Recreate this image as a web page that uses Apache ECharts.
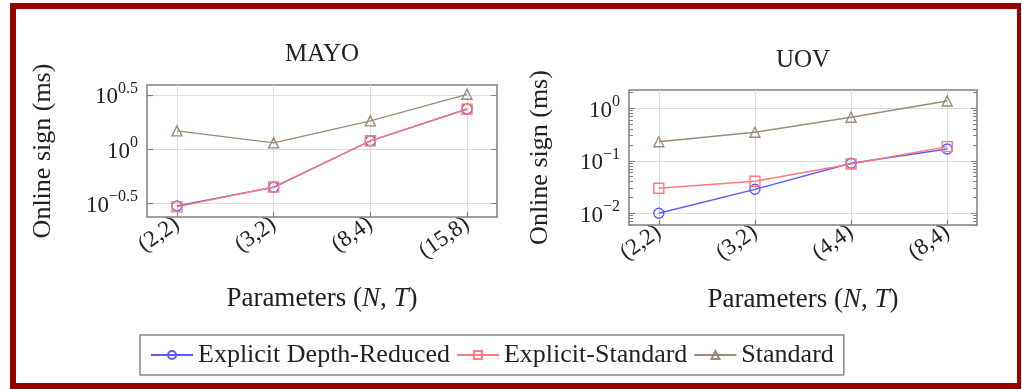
<!DOCTYPE html>
<html><head><meta charset="utf-8">
<script src="https://cdn.jsdelivr.net/npm/echarts@6/dist/echarts.min.js"></script>
<style>
html,body{margin:0;padding:0;background:#fff;}
#frame{position:absolute;left:10px;top:3px;width:1011px;height:386px;box-sizing:border-box;border:6px solid #990000;border-right-width:4px;}
#chart{position:absolute;left:0;top:0;width:1022px;height:389px;}
</style></head><body>
<div id="frame"></div><div id="chart"></div>
<script>
const seriesNames = ['Explicit Depth-Reduced', 'Explicit-Standard', 'Standard'];
const mayoCategories = ['(2,2)', '(3,2)', '(8,4)', '(15,8)'];
const uovCategories = ['(2,2)', '(3,2)', '(4,4)', '(8,4)'];
const mayoDepthReduced = [0.298, 0.443, 1.19, 2.34];
const mayoExplicitStd = [0.292, 0.446, 1.19, 2.33];
const mayoStandard = [1.47, 1.14, 1.82, 3.2];
const uovDepthReduced = [0.0100, 0.0286, 0.0896, 0.168];
const uovExplicitStd = [0.0299, 0.0407, 0.0869, 0.186];
const uovStandard = [0.231, 0.349, 0.674, 1.38];
const mayoYTickExponents = [-0.5, 0, 0.5];
const uovYTickExponents = [-2, -1, 0];
const uovMinorTicks = [0.006, 0.007, 0.008, 0.009, 0.02, 0.03, 0.04, 0.05, 0.06, 0.07, 0.08, 0.09,
  0.2, 0.3, 0.4, 0.5, 0.6, 0.7, 0.8, 0.9, 2];

const FONT = 'Liberation Serif';
const TXT = '#222222';
const FRAME = '#808080';
const GRIDC = '#dcdcdc';
const COLORS = ['#5a5aff', '#ff7a7a', '#9c8b76'];
const SYMBOLS = ['circle', 'rect', 'triangle'];

const catIdx = [0, 1, 2, 3];
function expLabel(v) {
  const e = Math.round(Math.log10(v) * 10) / 10;
  const s = (e < 0 ? '\u2212' : '') + String(Math.abs(e));
  return '{b|10}{s|' + s + '}';
}
const yRich = {
  b: {fontFamily: FONT, fontSize: 23, color: TXT, lineHeight: 28, verticalAlign: 'bottom'},
  s: {fontFamily: FONT, fontSize: 16, color: TXT, lineHeight: 16, verticalAlign: 'top'}
};
function xAxis(gi, cats, nameGap) {
  return {
    type: 'value', gridIndex: gi, min: -0.31, max: 3.31,
    axisLine: {show: false, onZero: false},
    axisTick: {show: true, customValues: catIdx, inside: true, length: 5, lineStyle: {color: FRAME, width: 1.2}},
    axisLabel: {customValues: catIdx, formatter: v => cats[Math.round(v)], rotate: 35, fontFamily: FONT, fontSize: 23, color: TXT, margin: 5},
    splitLine: {show: true, lineStyle: {color: GRIDC, width: 1}},
    name: '{r|Parameters (}{i|N}{r|, }{i|T}{r|)}', nameLocation: 'middle', nameGap: nameGap,
    nameTextStyle: {rich: {
      r: {fontFamily: FONT, fontSize: 27, color: TXT},
      i: {fontFamily: FONT, fontSize: 27, color: TXT, fontStyle: 'italic'}
    }}
  };
}
function yMain(gi, min, max, ticks, nameGap) {
  return {
    type: 'log', logBase: 10, gridIndex: gi, min: min, max: max, position: 'left',
    axisLine: {show: false, onZero: false},
    axisTick: {show: true, customValues: ticks, inside: true, length: 6, lineStyle: {color: FRAME, width: 1.2}},
    axisLabel: {customValues: ticks, formatter: expLabel, rich: yRich, margin: 9},
    splitLine: {show: true, lineStyle: {color: GRIDC, width: 1}},
    name: 'Online sign (ms)', nameLocation: 'middle', nameGap: nameGap,
    nameTextStyle: {fontFamily: FONT, fontSize: 26, color: TXT}
  };
}
function yTicksOnly(gi, min, max, ticks, pos, len) {
  return {
    type: 'log', logBase: 10, gridIndex: gi, min: min, max: max, position: pos,
    axisLine: {show: false, onZero: false},
    axisTick: {show: true, customValues: ticks, inside: true, length: len, lineStyle: {color: FRAME, width: 1}},
    axisLabel: {show: false},
    splitLine: {show: false}
  };
}
function mkSeries(k, data, xi, yi) {
  return {
    type: 'line', name: seriesNames[k], xAxisIndex: xi, yAxisIndex: yi,
    data: data.map((v, i) => [catIdx[i], v]),
    symbol: SYMBOLS[k], symbolSize: 10,
    lineStyle: {color: COLORS[k], width: 1.4},
    itemStyle: {color: 'rgba(255,255,255,0)', borderColor: COLORS[k], borderWidth: 1.4},
    emphasis: {disabled: true}, animation: false
  };
}
const mayoTicks = mayoYTickExponents.map(e => Math.pow(10, e));
const uovTicks = uovYTickExponents.map(e => Math.pow(10, e));
const mMin = 0.2355, mMax = 3.90, uMin = 0.00598, uMax = 2.23;

const option = {
  animation: false,
  title: [
    {text: 'MAYO', left: 322, top: 42, textAlign: 'center', padding: 0,
     textStyle: {fontFamily: FONT, fontSize: 25, fontWeight: 'normal', color: TXT}},
    {text: 'UOV', left: 803, top: 48, textAlign: 'center', padding: 0,
     textStyle: {fontFamily: FONT, fontSize: 25, fontWeight: 'normal', color: TXT}}
  ],
  grid: [
    {left: 147, top: 85, width: 350, height: 132, show: true, borderColor: FRAME, borderWidth: 1.5, backgroundColor: 'transparent'},
    {left: 629, top: 90, width: 348, height: 135, show: true, borderColor: FRAME, borderWidth: 1.5, backgroundColor: 'transparent'}
  ],
  legend: {
    data: seriesNames, left: 140, top: 335, orient: 'horizontal',
    padding: [5, 10, 5, 10], itemGap: 6, itemWidth: 42, itemHeight: 10,
    borderColor: '#8a8a8a', borderWidth: 1.5, borderRadius: 0,
    textStyle: {fontFamily: FONT, fontSize: 26, color: TXT, lineHeight: 30}
  },
  xAxis: [xAxis(0, mayoCategories, 68), xAxis(1, uovCategories, 61)],
  yAxis: [
    yMain(0, mMin, mMax, mayoTicks, 91),
    yTicksOnly(0, mMin, mMax, mayoTicks, 'right', 6),
    yMain(1, uMin, uMax, uovTicks, 76),
    yTicksOnly(1, uMin, uMax, uovTicks, 'right', 6),
    yTicksOnly(1, uMin, uMax, uovMinorTicks, 'left', 4),
    yTicksOnly(1, uMin, uMax, uovMinorTicks, 'right', 4)
  ],
  series: [
    mkSeries(0, mayoDepthReduced, 0, 0),
    mkSeries(1, mayoExplicitStd, 0, 0),
    mkSeries(2, mayoStandard, 0, 0),
    mkSeries(0, uovDepthReduced, 1, 2),
    mkSeries(1, uovExplicitStd, 1, 2),
    mkSeries(2, uovStandard, 1, 2)
  ]
};
const chart = echarts.init(document.getElementById('chart'), null, {renderer: 'canvas'});
chart.setOption(option);
</script>
</body></html>
